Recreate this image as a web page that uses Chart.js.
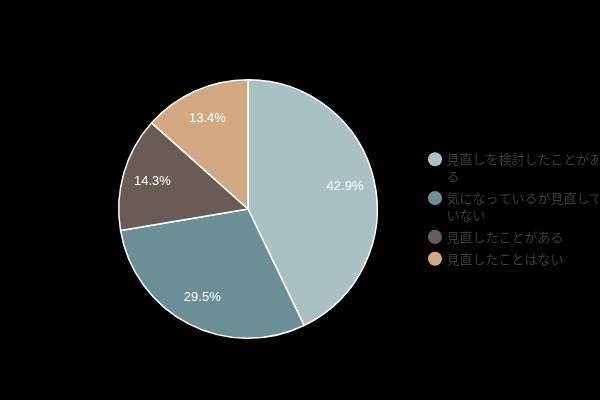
<!DOCTYPE html>
<html>
<head>
<meta charset="utf-8">
<script src="https://cdn.jsdelivr.net/npm/chart.js@4/dist/chart.umd.min.js"></script>
<style>
html,body{margin:0;padding:0;background:#000;}
#wrap{width:600px;height:400px;}
</style>
</head>
<body>
<div id="wrap"><canvas id="c" width="600" height="400"></canvas></div>
<script>
const categories = ["見直しを検討したことがある", "気になっているが見直していない", "見直したことがある", "見直したことはない"];
const legendLines = [["見直しを検討したことがあ", "る"], ["気になっているが見直して", "いない"], ["見直したことがある"], ["見直したことはない"]];
const values = [42.9, 29.5, 14.3, 13.4];
const colors = ["#a9c1c2", "#6c8f96", "#685c54", "#d2a882"];

const pctLabels = {
  id: 'pctLabels',
  afterDatasetsDraw(chart) {
    const ctx = chart.ctx;
    const meta = chart.getDatasetMeta(0);
    ctx.save();
    ctx.font = '13px "Liberation Sans", Arial, sans-serif';
    ctx.fillStyle = '#ffffff';
    ctx.textAlign = 'center';
    ctx.textBaseline = 'middle';
    meta.data.forEach((arc, i) => {
      const p = arc.getProps(['x', 'y', 'startAngle', 'endAngle', 'outerRadius'], true);
      const mid = (p.startAngle + p.endAngle) / 2;
      const r = p.outerRadius * 0.77;
      ctx.fillText(values[i].toFixed(1) + '%', p.x + Math.cos(mid) * r, p.y + Math.sin(mid) * r);
    });
    ctx.restore();
  }
};

new Chart(document.getElementById('c'), {
  type: 'pie',
  data: {
    labels: categories,
    datasets: [{
      data: values,
      backgroundColor: colors,
      borderColor: '#ffffff',
      borderWidth: 1.5
    }]
  },
  options: {
    responsive: false,
    animation: false,
    layout: { padding: { left: 71, top: 79, bottom: 61, right: 2 } },
    plugins: {
      tooltip: { enabled: false },
      legend: {
        position: 'right',
        maxWidth: 173,
        title: { display: true, text: '', font: { size: 1, lineHeight: 1 }, padding: { top: 0, bottom: 3 } },
        labels: {
          usePointStyle: true,
          pointStyle: 'circle',
          boxWidth: 10,
          boxHeight: 10,
          padding: 5,
          color: '#3c3c3c',
          font: { size: 13, lineHeight: 1.3, family: '"Noto Sans CJK JP", sans-serif' },
          generateLabels(chart) {
            return legendLines.map((t, i) => ({
              text: t,
              fillStyle: colors[i],
              strokeStyle: colors[i],
              lineWidth: 0,
              pointStyle: 'circle',
              hidden: false,
              index: i,
              fontColor: '#3c3c3c'
            }));
          }
        }
      }
    }
  },
  plugins: [pctLabels]
});
</script>
</body>
</html>
